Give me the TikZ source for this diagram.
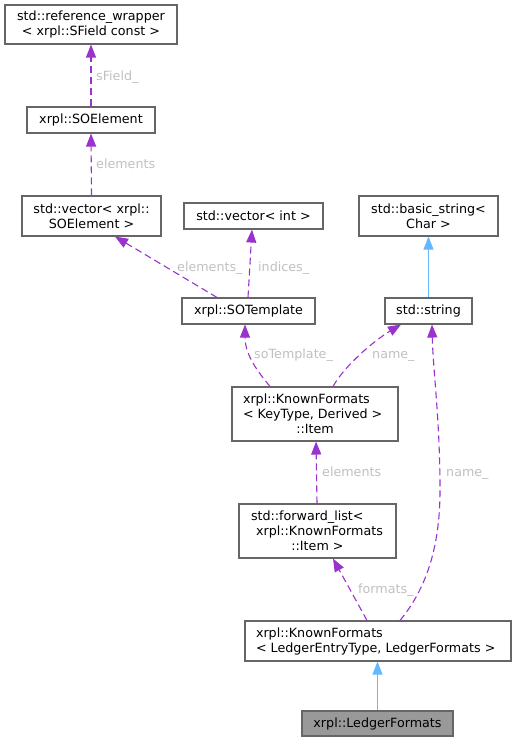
\documentclass[tikz,border=0pt]{standalone}
\usepackage{fontspec}
\setmainfont{DejaVu Sans}
\usetikzlibrary{arrows.meta,calc}
\definecolor{edgepurple}{HTML}{9A32CD}
\definecolor{edgeblue}{HTML}{63B8FF}
\definecolor{boxborder}{HTML}{666666}
\definecolor{lblgrey}{HTML}{C0C0C0}
\definecolor{curfill}{HTML}{999999}
\begin{document}
\begin{tikzpicture}[x=1pt,y=-1pt,
  font=\fontsize{12.7}{15}\selectfont,
  cls/.style={draw=boxborder,line width=1.1pt,fill=white,inner sep=0pt,align=center},
  cur/.style={cls,fill=curfill},
  dep/.style={draw=edgepurple,line width=1.1pt,dash pattern=on 7pt off 4pt,-{Triangle[length=13pt,width=10pt]}},
  inh/.style={draw=edgeblue,line width=1.1pt,-{Triangle[length=13pt,width=10pt]}},
  lbl/.style={text=lblgrey,inner sep=0pt,anchor=base west}]
\useasboundingbox (0,0) rectangle (516,741);

\node[cls,minimum width=172pt,minimum height=39pt] (rw) at (91,24.5) {std::reference\_wrapper\\< xrpl::SField const >};
\node[cls,minimum width=128pt,minimum height=26pt] (soe) at (91,120) {xrpl::SOElement};
\node[cls,minimum width=139pt,minimum height=40pt] (vsoe) at (91.5,216) {std::vector< xrpl::\\SOElement >};
\node[cls,minimum width=139pt,minimum height=26pt] (vint) at (253.5,216) {std::vector< int >};
\node[cls,minimum width=133pt,minimum height=26pt] (sot) at (248.5,311) {xrpl::SOTemplate};
\node[cls,minimum width=139pt,minimum height=40pt] (bstr) at (428.5,216) {std::basic\_string<\\Char >};
\node[cls,minimum width=87pt,minimum height=26pt] (str) at (428.5,311) {std::string};
\node[cls,minimum width=166pt,minimum height=54pt] (item) at (315,414)
  {\makebox[166pt][l]{\hspace*{11pt}xrpl::KnownFormats}\\\makebox[166pt][l]{\hspace*{11pt}< KeyType, Derived >}\\::Item};
\node[cls,minimum width=157pt,minimum height=54pt] (fl) at (317.5,531)
  {\makebox[157pt][l]{\hspace*{12pt}std::forward\_list<}\\\makebox[157pt][c]{\hspace*{4pt}xrpl::KnownFormats}\\::Item >};
\node[cls,minimum width=266pt,minimum height=40pt] (kf) at (378,641)
  {\makebox[266pt][l]{\hspace*{11pt}xrpl::KnownFormats}\\\makebox[266pt][l]{\hspace*{11pt}< LedgerEntryType, LedgerFormats >}};
\node[cur,minimum width=151pt,minimum height=25pt] (lf) at (377.5,723.5) {xrpl::LedgerFormats};

% dependency edges
\draw[dep] (soe.north) -- (rw.south);
\draw[dep] (vsoe.north) -- (soe.south);
\draw[dep] ($(sot.north)+(-31.5,0)$) -- ($(vsoe.south)+(23.5,0)$);
\draw[dep] ($(sot.north)+(-0.5,0)$) -- ($(vint.south)+(-1.5,0)$);
\draw[dep] ($(item.north)+(-45,0)$) .. controls (258,372) and (245,355) .. ($(sot.south)+(-3.5,0)$);
\draw[dep] ($(item.north)+(18,0)$) .. controls (345,365) and (375,340) .. ($(str.south)+(-27.5,0)$);
\draw[dep] ($(fl.north)+(-0.5,0)$) -- ($(item.south)+(1,0)$);
\draw[dep] ($(kf.north)+(-11,0)$) -- ($(fl.south)+(15.5,0)$);
\draw[dep] ($(kf.north)+(22,0)$) .. controls (425,590) and (440,550) .. (440,490)
  .. controls (440,420) and (433,370) .. ($(str.south)+(3.5,0)$);

% inheritance edges
\draw[inh] (str.north) -- (bstr.south);
\draw[inh] (lf.north) -- (lf.north |- kf.south);

% labels
\node[lbl] (l1) at (96,80.5) {sField\_};
\node[lbl] (l2) at (96,168.5) {elements};
\node[lbl] (l3) at (177,271.5) {elements\_};
\node[lbl] (l4) at (258,271.5) {indices\_};
\node[lbl] (l5) at (254,358.5) {soTemplate\_};
\node[lbl] (l6) at (372,358.5) {name\_};
\node[lbl] (l7) at (446,476.5) {name\_};
\node[lbl] (l8) at (322,476.5) {elements};
\node[lbl] (l9) at (358,593.5) {formats\_};
\end{tikzpicture}
\end{document}
